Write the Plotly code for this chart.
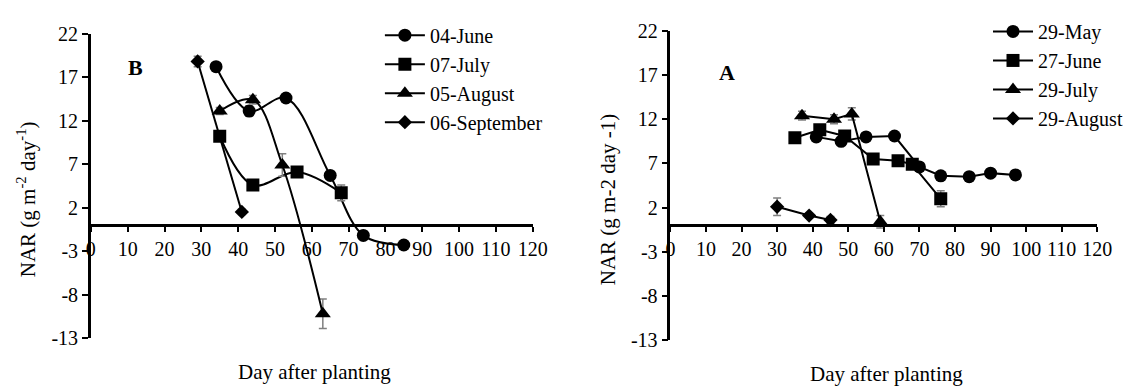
import plotly.graph_objects as go

# ---------------- Panel B (left) ----------------
b_names = ["04-June", "07-July", "05-August", "06-September"]
b_jun_x = [34, 43, 53, 65, 74, 85]
b_jun_y = [18.2, 13.1, 14.6, 5.7, -1.2, -2.3]
b_jun_e = [0.3, 0.6, 0.5, 0.4, 0.3, 0.3]
b_jul_x = [35, 44, 56, 68]
b_jul_y = [10.2, 4.6, 6.1, 3.7]
b_jul_e = [0.3, 0.3, 0.3, 0.9]
b_aug_x = [35, 44, 52, 63]
b_aug_y = [13.1, 14.4, 6.9, -10.2]
b_aug_e = [0.4, 0.5, 1.3, 1.7]
b_sep_x = [29, 41]
b_sep_y = [18.8, 1.5]
b_sep_e = [0.6, 0.3]

# ---------------- Panel A (right) ----------------
a_names = ["29-May", "27-June", "29-July", "29-August"]
a_may_x = [41, 48, 55, 63, 70, 76, 84, 90, 97]
a_may_y = [10.0, 9.5, 10.0, 10.1, 6.6, 5.6, 5.5, 5.9, 5.7]
a_may_e = [0.3, 0.3, 0.3, 0.3, 0.3, 0.3, 0.3, 0.3, 0.3]
a_jun_x = [35, 42, 49, 57, 64, 68, 76]
a_jun_y = [9.9, 10.8, 10.1, 7.5, 7.3, 6.9, 3.0]
a_jun_e = [0.3, 0.3, 0.3, 0.3, 0.3, 0.3, 0.9]
a_jul_x = [37, 46, 51, 59]
a_jul_y = [12.4, 12.0, 12.6, 0.4]
a_jul_e = [0.5, 0.5, 0.7, 0.7]
a_aug_x = [30, 39, 45]
a_aug_y = [2.1, 1.1, 0.6]
a_aug_e = [1.0, 0.3, 0.4]

x_ticks = list(range(0, 121, 10))
x_ticktext = [str(v) for v in x_ticks]
y_ticks = [-13, -8, -3, 2, 7, 12, 17, 22]
y_ticktext = ["-13", "-8", "-3", "2", "7", "12", "17", "22"]
x_range = [0, 120]
y_range = [-13, 22]

FONT = "Liberation Serif, Times New Roman, DejaVu Serif, serif"
W, H = 1128, 388

# plot areas (paper fractions)
L_xdom = [87.5 / W, 537.7 / W]
L_ydom = [1 - 346.7 / H, 1 - 24 / H]
R_xdom = [678 / W, 1113 / W]
R_ydom = [1 - 349 / H, 1 - 21 / H]


def zero_pos(ydom):
    frac = (0 - y_range[0]) / (y_range[1] - y_range[0])
    return ydom[0] + (ydom[1] - ydom[0]) * frac


symbols = ["circle", "square", "triangle-up", "diamond"]
sizes = [13, 13, 14, 11]
err_style = dict(type="data", color="#808080", thickness=1.5, width=4, visible=True)

fig = go.Figure()

b_series = [(b_jun_x, b_jun_y, b_jun_e), (b_jul_x, b_jul_y, b_jul_e),
            (b_aug_x, b_aug_y, b_aug_e), (b_sep_x, b_sep_y, b_sep_e)]
for i, (xs, ys, es) in enumerate(b_series):
    fig.add_trace(go.Scatter(
        x=xs, y=ys, name=b_names[i], mode="lines+markers",
        line=dict(color="black", width=2, shape="spline", smoothing=1.0),
        marker=dict(symbol=symbols[i], size=sizes[i], color="black"),
        error_y=dict(array=es, **err_style),
        xaxis="x", yaxis="y", legend="legend",
    ))

a_series = [(a_may_x, a_may_y, a_may_e), (a_jun_x, a_jun_y, a_jun_e),
            (a_jul_x, a_jul_y, a_jul_e), (a_aug_x, a_aug_y, a_aug_e)]
for i, (xs, ys, es) in enumerate(a_series):
    fig.add_trace(go.Scatter(
        x=xs, y=ys, name=a_names[i], mode="lines+markers",
        line=dict(color="black", width=2),
        marker=dict(symbol=symbols[i], size=sizes[i], color="black"),
        error_y=dict(array=es, **err_style),
        xaxis="x2", yaxis="y2", legend="legend2",
    ))

tickfont = dict(family=FONT, size=20, color="black")


def xax(dom, ydom):
    return dict(domain=dom, range=x_range, tickvals=x_ticks, ticktext=x_ticktext,
                anchor="free", position=zero_pos(ydom), showline=True,
                linecolor="black", linewidth=2.5, ticks="outside", ticklen=5,
                tickwidth=1.5, tickcolor="black", showgrid=False, zeroline=False,
                tickfont=tickfont)


def yax(dom, anchor_x):
    return dict(domain=dom, range=y_range, tickvals=y_ticks, ticktext=y_ticktext,
                anchor=anchor_x, showline=True, linecolor="black", linewidth=2.5,
                ticks="outside", ticklen=6, tickwidth=1.5, tickcolor="black",
                showgrid=False, zeroline=False, tickfont=tickfont)


legfont = dict(family=FONT, size=20, color="black")
ann_font = dict(family=FONT, size=21, color="black")

fig.update_layout(
    width=W, height=H,
    margin=dict(l=0, r=0, t=0, b=0),
    paper_bgcolor="white", plot_bgcolor="white",
    font=dict(family=FONT, color="black"),
    xaxis=xax(L_xdom, L_ydom),
    yaxis=yax(L_ydom, "x"),
    xaxis2=xax(R_xdom, R_ydom),
    yaxis2=yax(R_ydom, "x2"),
    legend=dict(x=382 / W, y=1 - 5 / H, xanchor="left", yanchor="top",
                font=legfont, bgcolor="rgba(0,0,0,0)", itemwidth=40),
    legend2=dict(x=1002 / W, y=1 - 1 / H, xanchor="left", yanchor="top",
                 font=legfont, bgcolor="rgba(0,0,0,0)", itemwidth=40),
    showlegend=True,
    annotations=[
        dict(text="<b>B</b>", x=12.2, y=18.1, xref="x", yref="y", showarrow=False,
             xanchor="center", yanchor="middle",
             font=dict(family=FONT, size=22, color="black")),
        dict(text="<b>A</b>", x=16.0, y=17.3, xref="x2", yref="y2", showarrow=False,
             xanchor="center", yanchor="middle",
             font=dict(family=FONT, size=22, color="black")),
        dict(text="NAR (g m<sup>-2</sup> day<sup>-1</sup>)", x=22 / W, y=1 - 200 / H,
             xref="paper", yref="paper", showarrow=False, textangle=-90,
             xanchor="center", yanchor="middle", font=ann_font),
        dict(text="NAR (g m-2 day -1)", x=614 / W, y=1 - 200 / H,
             xref="paper", yref="paper", showarrow=False, textangle=-90,
             xanchor="center", yanchor="middle", font=ann_font),
        dict(text="Day after planting", x=315 / W, y=1 - 383 / H,
             xref="paper", yref="paper", showarrow=False,
             xanchor="center", yanchor="middle", font=ann_font),
        dict(text="Day after planting", x=898 / W, y=1 - 385 / H,
             xref="paper", yref="paper", showarrow=False,
             xanchor="center", yanchor="middle", font=ann_font),
    ],
)

fig.write_html("out.html")
